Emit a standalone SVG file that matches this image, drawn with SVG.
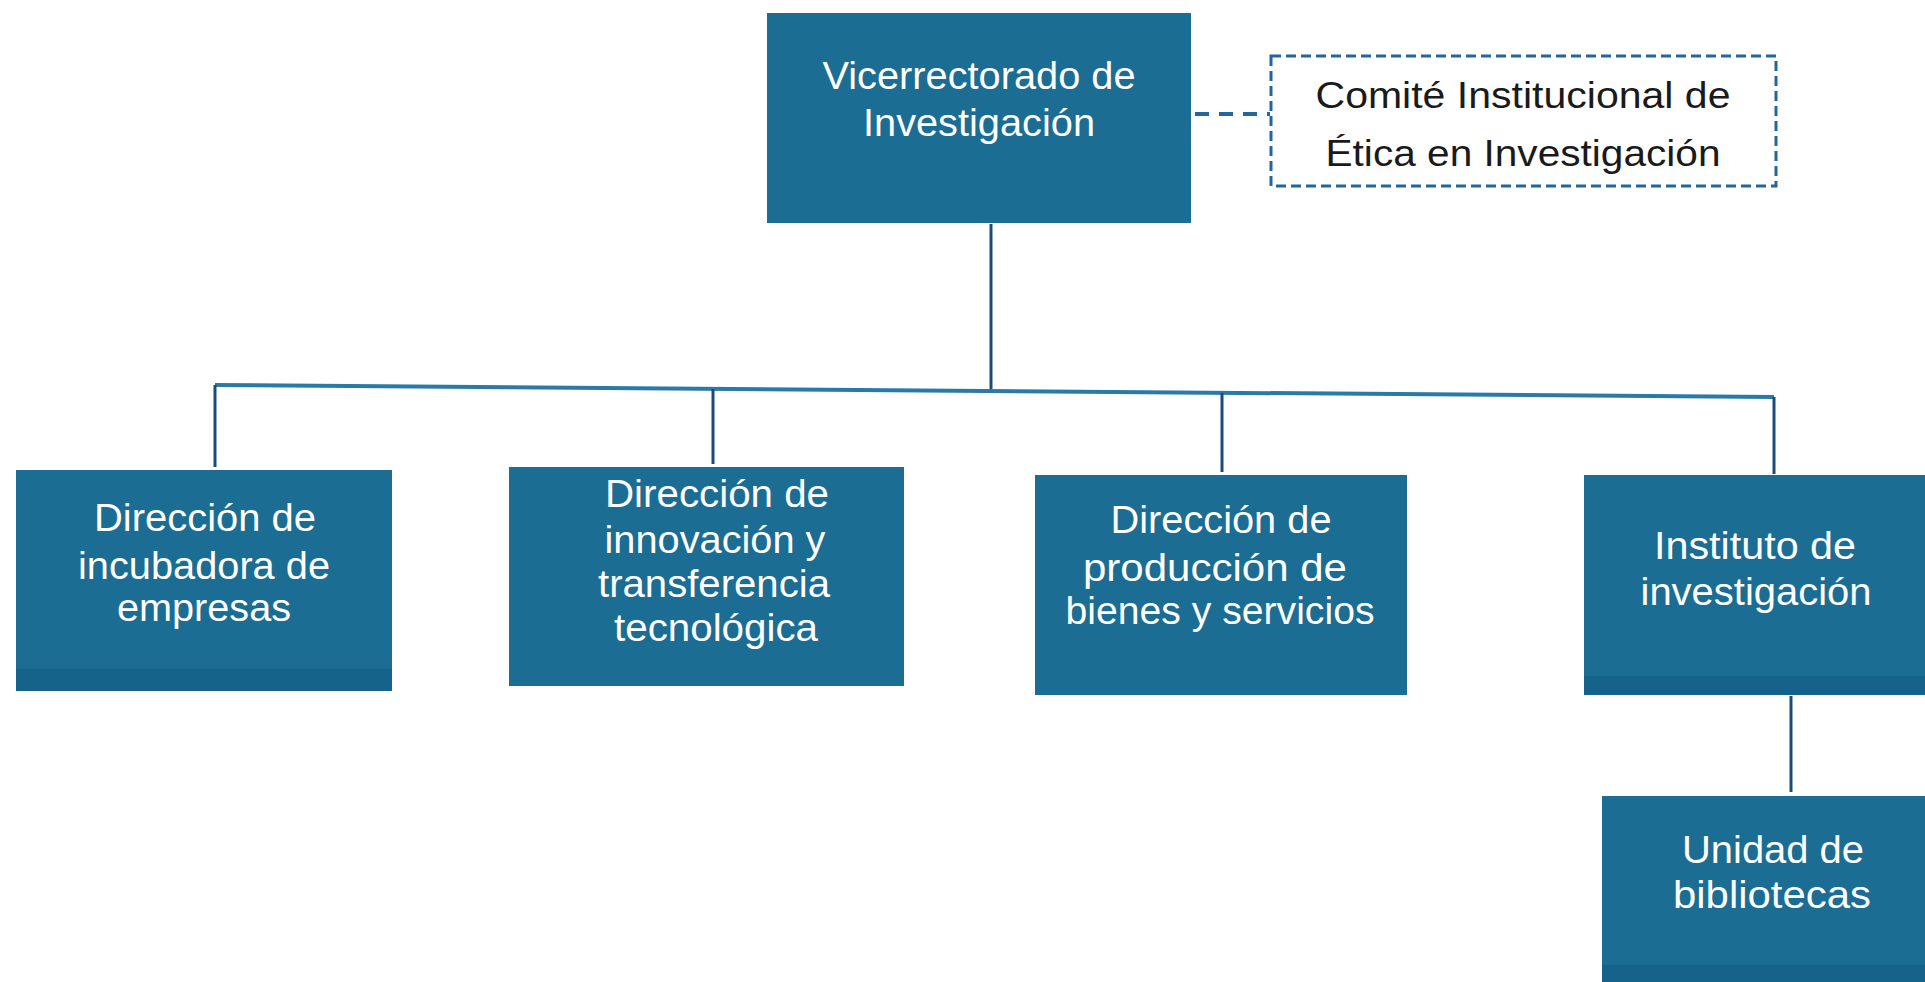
<svg xmlns="http://www.w3.org/2000/svg" width="1925" height="982" viewBox="0 0 1925 982">
<style>
.box{fill:#1b6d93}
.shade{fill:#15628a}
.t{font-family:"Liberation Sans",Arial,sans-serif;font-size:38px;fill:#ffffff;text-anchor:middle}
.tc{font-family:"Liberation Sans",Arial,sans-serif;font-size:36px;fill:#1a1a1a;text-anchor:middle}
.ln{stroke:#1d4a78;stroke-width:3;fill:none}
.hl{stroke:#2a7aa8;stroke-width:4;fill:none}
.dash{stroke:#2266a0;stroke-width:3;fill:none;stroke-dasharray:10 5}
.dashc{stroke:#2266a0;stroke-width:4;fill:none;stroke-dasharray:14 10}
</style>
<rect width="1925" height="982" fill="#ffffff"/>
<g id="connectors">
<line class="dashc" x1="1195" y1="114" x2="1270" y2="114"/>
<line class="ln" x1="991" y1="224" x2="991" y2="390"/>
<line class="hl" x1="215" y1="385" x2="1774" y2="397"/>
<line class="ln" x1="215" y1="385" x2="215" y2="467"/>
<line class="ln" x1="713" y1="389" x2="713" y2="464"/>
<line class="ln" x1="1222" y1="393" x2="1222" y2="472"/>
<line class="ln" x1="1774" y1="397" x2="1774" y2="474"/>
<line class="ln" x1="1791" y1="696" x2="1791" y2="792"/>
</g>
<g id="n-vicerrectorado">
<rect class="box" x="767" y="13" width="424" height="210"/>
<text class="t" x="979" y="89" font-size="40" textLength="313" lengthAdjust="spacingAndGlyphs">Vicerrectorado de</text>
<text class="t" x="979" y="136" font-size="40" textLength="232" lengthAdjust="spacingAndGlyphs">Investigación</text>
</g>
<g id="n-comite">
<rect class="dash" x="1271" y="56" width="505" height="130" fill="#ffffff"/>
<text class="tc" x="1523" y="108" textLength="415" lengthAdjust="spacingAndGlyphs">Comité Institucional de</text>
<text class="tc" x="1523" y="166" textLength="395" lengthAdjust="spacingAndGlyphs">Ética en Investigación</text>
</g>
<g id="n-incubadora">
<rect class="box" x="16" y="470" width="376" height="221"/>
<rect class="shade" x="16" y="669" width="376" height="22"/>
<text class="t" x="205" y="531" textLength="222" lengthAdjust="spacingAndGlyphs">Dirección de</text>
<text class="t" x="204" y="579" textLength="252" lengthAdjust="spacingAndGlyphs">incubadora de</text>
<text class="t" x="204" y="621" textLength="174" lengthAdjust="spacingAndGlyphs">empresas</text>
</g>
<g id="n-innovacion">
<rect class="box" x="509" y="467" width="395" height="219"/>
<text class="t" x="717" y="507" textLength="224" lengthAdjust="spacingAndGlyphs">Dirección de</text>
<text class="t" x="715" y="553" textLength="221" lengthAdjust="spacingAndGlyphs">innovación y</text>
<text class="t" x="714" y="597" textLength="232" lengthAdjust="spacingAndGlyphs">transferencia</text>
<text class="t" x="716" y="641" textLength="204" lengthAdjust="spacingAndGlyphs">tecnológica</text>
</g>
<g id="n-produccion">
<rect class="box" x="1035" y="475" width="372" height="220"/>
<text class="t" x="1221" y="533" textLength="221" lengthAdjust="spacingAndGlyphs">Dirección de</text>
<text class="t" x="1215" y="581" textLength="264" lengthAdjust="spacingAndGlyphs">producción de</text>
<text class="t" x="1220" y="624" textLength="309" lengthAdjust="spacingAndGlyphs">bienes y servicios</text>
</g>
<g id="n-instituto">
<rect class="box" x="1584" y="475" width="341" height="220"/>
<rect class="shade" x="1584" y="676" width="341" height="19"/>
<text class="t" x="1755" y="559" textLength="202" lengthAdjust="spacingAndGlyphs">Instituto de</text>
<text class="t" x="1756" y="605" textLength="231" lengthAdjust="spacingAndGlyphs">investigación</text>
</g>
<g id="n-bibliotecas">
<rect class="box" x="1602" y="796" width="323" height="186"/>
<rect class="shade" x="1602" y="965" width="323" height="17"/>
<text class="t" x="1773" y="863" textLength="182" lengthAdjust="spacingAndGlyphs">Unidad de</text>
<text class="t" x="1772" y="908" textLength="198" lengthAdjust="spacingAndGlyphs">bibliotecas</text>
</g>
</svg>
